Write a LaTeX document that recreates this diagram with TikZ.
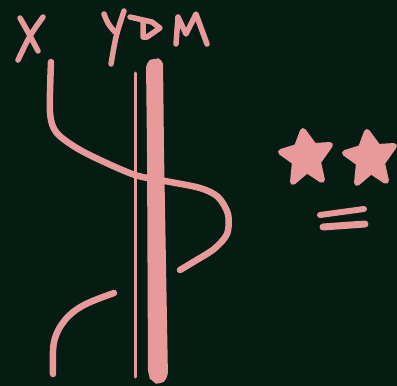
\documentclass[tikz,border=0pt]{standalone}
\definecolor{bg}{RGB}{5,28,18}
\definecolor{ink}{RGB}{232,154,154}
\tikzset{
  pen/.style={draw=ink, line cap=round, line join=round},
  letter/.style={pen, line width=5.5pt},
  strand/.style={pen, line width=6.5pt},
  starshape/.style={fill=ink, pen, line width=6pt},
}
\begin{document}
\begin{tikzpicture}[x=1pt,y=-1pt]
\fill[bg] (0,0) rectangle (397,386);
\useasboundingbox (0,0) rectangle (397,386);
% X label
\draw[letter] (20,18) .. controls (27,30) .. (38,51);
\draw[letter] (43,17) .. controls (30,35) .. (18,60);
% Y
\draw[letter] (104,14) .. controls (108,24) .. (115,32);
\draw[letter] (124,11) .. controls (116,35) .. (111,64);
% D
\draw[letter] (130,17) -- (152,22) -- (160,28) -- (147,37) -- (143,37) -- (143,22);
% M
\draw[letter] (176,44) -- (178,17) -- (186,34) -- (196,14) -- (207,44);
% thin vertical line
\draw[pen, line width=3pt] (135.5,73) -- (135.5,377);
% X strand (upper)
\draw[strand] plot[smooth, tension=0.5] coordinates {
  (51,62) (50,112) (56,132) (75,147) (100,160) (135,175) (165,181) (200,188) (218,197) (228,214) (227,234) (214,249) (195,261) (180,270)};
% lower strand
\draw[strand] plot[smooth, tension=0.6] coordinates {
  (114,293) (84,305) (65,320) (54,342) (53,374)};
% thick bar
\fill[ink, rounded corners=6pt] (146,62) -- (154,58) -- (163,59) -- (164,150) -- (168,378) -- (160,385) -- (152,382) -- (148,375) -- (147,150) -- cycle;
% stars
\draw[starshape] (303,131) -- (314,146) -- (330,145) -- (318,162) -- (322,180) -- (307,170) -- (293,182) -- (295,162) -- (281,152) -- (297,147) -- cycle;
\begin{scope}[xshift=64pt, yshift=-1pt]
\draw[starshape] (303,131) -- (314,146) -- (330,145) -- (318,162) -- (322,180) -- (307,170) -- (293,182) -- (295,162) -- (281,152) -- (297,147) -- cycle;
\end{scope}
% equals
\draw[pen, line width=6pt] (320,215) -- (364,209);
\draw[pen, line width=7pt] (323,227) -- (365,224);
\end{tikzpicture}
\end{document}
